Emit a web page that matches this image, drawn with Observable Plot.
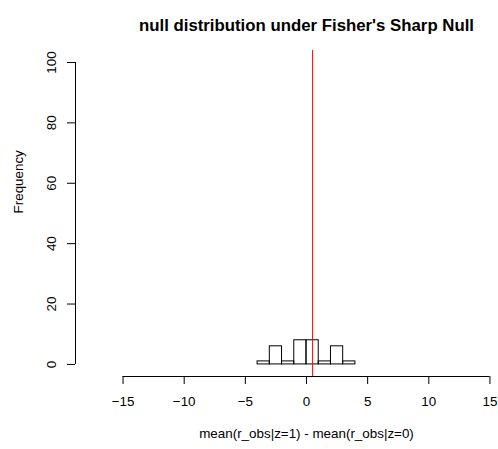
<!DOCTYPE html>
<html><head><meta charset="utf-8">
<script src="https://cdn.jsdelivr.net/npm/d3@7"></script>
<script src="https://cdn.jsdelivr.net/npm/@observablehq/plot@0.6"></script>
<style>body{margin:0;background:#fff;} svg{overflow:visible;}</style>
</head><body><div id="chart"></div>
<script>
const binStarts = [-4, -3, -2, -1, 0, 1, 2, 3];
const binWidth = 1;
const counts = [1, 6, 1, 8, 8, 1, 6, 1];
const observed = 0.5;
const xTicks = [-15, -10, -5, 0, 5, 10, 15];
const yTicks = [0, 20, 40, 60, 80, 100];
const titleText = "null distribution under Fisher's Sharp Null";
const xLabel = "mean(r_obs|z=1) - mean(r_obs|z=0)";
const yLabel = "Frequency";

const bins = binStarts.map((s, i) => ({x1: s, x2: s + binWidth, y: counts[i]}));
const pxPerUnit = 12.23, zeroPx = 306, W = 498;
const mL = 75;
const xmin = (mL - zeroPx) / pxPerUnit;
const xmax = (W - zeroPx) / pxPerUnit;

const font = "Liberation Sans, Arial, Helvetica, sans-serif";
const fs = 13.4;
const chart = Plot.plot({
  width: W, height: 449,
  marginLeft: mL, marginRight: 0, marginTop: 49.9, marginBottom: 73,
  style: {fontFamily: font, fontSize: fs + "px", background: "#fff", color: "#000"},
  x: {domain: [xmin, xmax], axis: null},
  y: {domain: [-4, 104], axis: null},
  marks: [
    Plot.rectY(bins, {x1: "x1", x2: "x2", y1: 0, y2: "y", fill: "none", stroke: "#000", strokeWidth: 1}),
    Plot.ruleX([observed], {stroke: "#ff0000", strokeWidth: 1}),
    Plot.ruleY([-4], {x1: xTicks[0], x2: xTicks[xTicks.length - 1], stroke: "#000"}),
    Plot.axisX({anchor: "bottom", ticks: xTicks, tickSize: 8, tickPadding: 12, fontSize: fs, label: null}),
    Plot.ruleX([xmin], {y1: 0, y2: 100, stroke: "#000"}),
    Plot.axisY({anchor: "left", ticks: yTicks, tickSize: 8, tickPadding: 12, tickRotate: -90, fontSize: fs, label: null}),
    Plot.text([yLabel], {frameAnchor: "left", y: 50, dx: -57, rotate: -90, fontSize: fs, text: d => d}),
    Plot.text([xLabel], {frameAnchor: "bottom", x: 0, dy: 61, fontSize: fs, text: d => d}),
    Plot.text([titleText], {frameAnchor: "top", x: 0, dy: -31, fontSize: 16.8, fontWeight: "bold", text: d => d})
  ]
});
document.getElementById("chart").appendChild(chart);
</script></body></html>
